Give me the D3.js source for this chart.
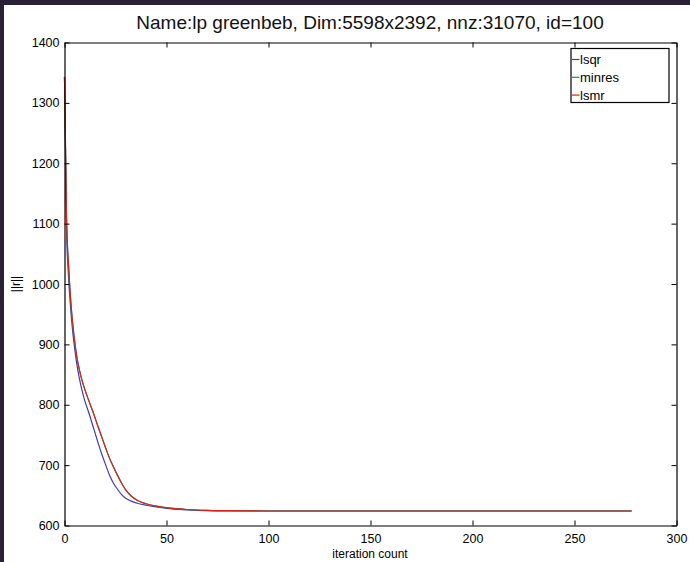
<!DOCTYPE html>
<html lang="en">
  <head>
    <meta charset="UTF-8" />
    <title>lp greenbeb</title>
    <script type="text/javascript" src="https://d3js.org/d3.v7.min.js"></script>
    <style>
      body { margin: 0; }
      text { font-family: "Liberation Sans", Arial, sans-serif; }
    </style>
  </head>
  <body>
    <svg width="690" height="562"></svg>
    <script>
      // data
      var iters = [0, 1, 2, 3, 4, 5, 6, 8, 10, 12, 14, 16, 18, 20, 22, 24, 26, 28, 30, 33, 36, 40, 45, 50, 60, 70, 80, 100, 150, 200, 278];
      var lsqr = [1343, 1090, 1010, 960, 922, 893, 868, 832, 806, 786, 764, 742, 721, 702, 684, 670, 660, 651, 645, 640, 636.5, 633.5, 631, 628.5, 626, 624.5, 624, 624, 624, 624, 624];
      var minres = [1343, 1110, 1030, 975, 935, 905, 880, 848, 825, 806, 788, 768, 749, 730, 712, 697, 683, 670, 659, 648, 641, 636, 632, 629.5, 626.5, 625, 624.5, 624, 624, 624, 624];
      var lsmr = [1343, 1110, 1030, 975, 935, 905, 880, 848, 825, 806, 788, 768, 749, 730, 712, 697, 683, 670, 659, 648, 641, 636, 632, 629.5, 626.5, 625, 624.5, 624, 624, 624, 624];
      var names = ["lsqr", "minres", "lsmr"];
      var colors = ["#3c3cbf", "#00a060", "#e0201c"];
      var xTicks = [0, 50, 100, 150, 200, 250, 300];
      var yTicks = [600, 700, 800, 900, 1000, 1100, 1200, 1300, 1400];

      var svg = d3.select("svg");
      svg.append("rect").attr("width", 690).attr("height", 562).attr("fill", "#2a2137");
      svg.append("rect").attr("x", 4).attr("y", 5).attr("width", 686).attr("height", 557).attr("fill", "#fff");

      var x = d3.scaleLinear().domain([0, 300]).range([64.5, 676.5]);
      var y = d3.scaleLinear().domain([600, 1400]).range([525.5, 42.5]);

      // curves, lsmr last so it sits on top
      var series = [lsqr, minres, lsmr];
      var line = d3.line()
        .x(function (d, i) { return x(iters[i]); })
        .y(function (d) { return y(d); })
        .curve(d3.curveMonotoneX);
      series.forEach(function (s, k) {
        svg.append("path")
          .datum(s)
          .attr("fill", "none")
          .attr("stroke", colors[k])
          .attr("stroke-width", 1.2)
          .attr("d", line);
      });

      // axes, ticks pointing inwards
      function style(g) {
        g.selectAll(".domain").attr("stroke", "#000").attr("stroke-width", 1.2);
        g.selectAll(".tick line").attr("stroke", "#000");
        g.selectAll("text").attr("font-size", 12.5).attr("fill", "#000").attr("font-family", "Liberation Sans, Arial, sans-serif");
      }
      svg.append("g")
        .attr("transform", "translate(0," + y(600) + ")")
        .call(d3.axisBottom(x).tickValues(xTicks).tickFormat(d3.format("d")).tickSizeInner(-5).tickSizeOuter(0).tickPadding(9))
        .call(style);
      svg.append("g")
        .attr("transform", "translate(0," + y(1400) + ")")
        .call(d3.axisTop(x).tickValues(xTicks).tickFormat("").tickSizeInner(-5).tickSizeOuter(0))
        .call(style);
      svg.append("g")
        .attr("transform", "translate(" + x(0) + ",0)")
        .call(d3.axisLeft(y).tickValues(yTicks).tickFormat(d3.format("d")).tickSizeInner(-5).tickSizeOuter(0).tickPadding(5))
        .call(style);
      svg.append("g")
        .attr("transform", "translate(" + x(300) + ",0)")
        .call(d3.axisRight(y).tickValues(yTicks).tickFormat("").tickSizeInner(-5).tickSizeOuter(0))
        .call(style);

      // titles
      svg.append("text")
        .attr("x", 370).attr("y", 29)
        .attr("text-anchor", "middle")
        .attr("font-size", 19)
        .attr("fill", "#111")
        .text("Name:lp greenbeb, Dim:5598x2392, nnz:31070, id=100");
      svg.append("text")
        .attr("x", 370).attr("y", 558)
        .attr("text-anchor", "middle")
        .attr("font-size", 12)
        .text("iteration count");
      svg.append("text")
        .attr("transform", "translate(20,284) rotate(-90)")
        .attr("text-anchor", "middle")
        .attr("font-size", 12)
        .text("||r||");

      // legend
      var lg = svg.append("g").attr("transform", "translate(571,48.5)");
      lg.append("rect")
        .attr("width", 98).attr("height", 54)
        .attr("fill", "#fff").attr("stroke", "#000").attr("stroke-width", 1.2);
      names.forEach(function (n, k) {
        var yy = 11 + k * 17.8;
        lg.append("line")
          .attr("x1", 1).attr("x2", 8.5).attr("y1", yy).attr("y2", yy)
          .attr("stroke", colors[k]).attr("stroke-width", 1.2);
        lg.append("text")
          .attr("x", 9).attr("y", yy)
          .attr("dy", "0.35em")
          .attr("font-size", 13)
          .text(n);
      });
    </script>
  </body>
</html>
